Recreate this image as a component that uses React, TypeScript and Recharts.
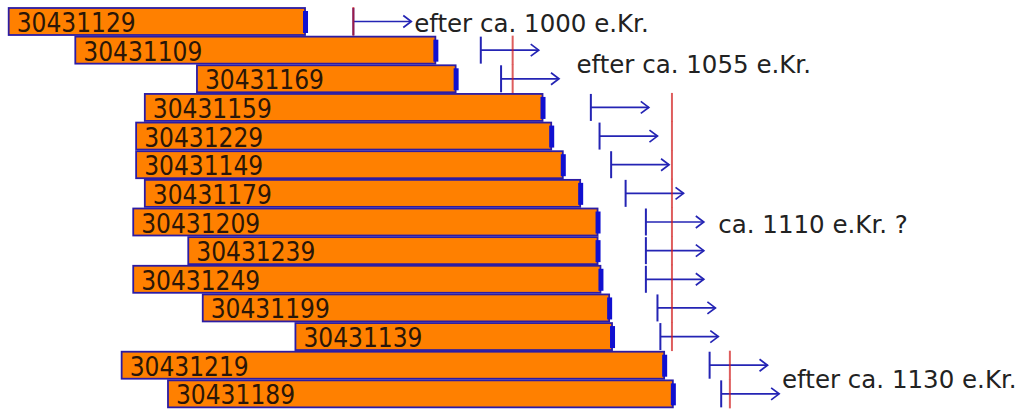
import React from "react";
import { BarChart, Bar, XAxis, YAxis } from "recharts";

// dendro samples, top to bottom
const SAMPLES = [
  "30431129", "30431109", "30431169", "30431159", "30431229", "30431149", "30431179",
  "30431209", "30431239", "30431249", "30431199", "30431139", "30431219", "30431189",
];
const FIRST_RING = [881, 904, 946, 928, 925, 925, 928, 924, 943, 924, 948, 980, 920, 936];
const LAST_RING = [984, 1029, 1036, 1066, 1069, 1073, 1079, 1085, 1085, 1086, 1089, 1090, 1108, 1111];
const EARLIEST_FELLING = [1000, 1044, 1051, 1082, 1085, 1089, 1094, 1101, 1101, 1101, 1105, 1106, 1123, 1127];
const FELLING_DATE = [1000, 1055, 1055, 1110, 1110, 1110, 1110, 1110, 1110, 1110, 1110, 1110, 1130, 1130];
const ARROW_YEARS = 20;

const NOTES = [
  { sample: "30431129", text: "efter ca. 1000 e.Kr.", year: 1021, at: "mid" },
  { sample: "30431109", text: "efter ca. 1055 e.Kr.", year: 1077, at: "below" },
  { sample: "30431209", text: "ca. 1110 e.Kr. ?", year: 1126, at: "mid" },
  { sample: "30431219", text: "efter ca. 1130 e.Kr.", year: 1148, at: "below" },
];

const rows = SAMPLES.map((id, i) => ({
  id,
  first: FIRST_RING[i],
  last: LAST_RING[i],
  tick: EARLIEST_FELLING[i],
  felled: FELLING_DATE[i],
  span: [FIRST_RING[i], EARLIEST_FELLING[i] + ARROW_YEARS],
  note: NOTES.find((n) => n.sample === id),
}));

const BLUE = "#2424b4";

function SampleShape(props: any) {
  const { x, y, width, height, payload } = props;
  const [lo, hi] = payload.span;
  // linear, same as the x scale
  const px = (v: number) => x + (width * (v - lo)) / (hi - lo);
  const end = px(payload.last);
  const tx = px(payload.tick);
  const ax = px(payload.tick + ARROW_YEARS);
  const cy = y + height / 2;
  const rx = px(payload.felled);
  const note = payload.note;

  return (
    <g>
      <rect x={x} y={y} width={end - x - 2} height={height} fill="#ff8000" stroke="#2c1ca4" strokeWidth={1.8} />
      <rect x={end - 4} y={y + 3} width={5} height={height - 5} fill="#1010d0" />
      <text x={x + 8} y={y + height - 3} fontSize={26} fontFamily="DejaVu Sans Condensed, DejaVu Sans" fill="#2a1608">
        {payload.id}
      </text>
      <line x1={tx} x2={tx} y1={y} y2={y + height} stroke={BLUE} strokeWidth={2} />
      <line x1={tx} x2={ax} y1={cy} y2={cy} stroke={BLUE} strokeWidth={1.7} />
      <polyline points={`${ax - 8},${cy - 6} ${ax},${cy} ${ax - 8},${cy + 6}`} fill="none" stroke={BLUE} strokeWidth={1.7} />
      <line x1={rx} x2={rx} y1={y - 1} y2={y + height + 1} stroke="#d01818" strokeOpacity={0.7} strokeWidth={2} />
      {note && (
        <text
          x={px(note.year)}
          y={note.at === "mid" ? cy + 2 : y + height + 1}
          dominantBaseline="central"
          fontSize={24.5}
          fontFamily="DejaVu Sans"
          fill="#222"
        >
          {note.text}
        </text>
      )}
    </g>
  );
}

export default function App() {
  return (
    <div style={{ position: "absolute", left: 0, top: 0, width: 1034, height: 411, background: "#fff" }}>
      <BarChart
        width={1034}
        height={411}
        data={rows}
        layout="vertical"
        margin={{ top: 7, right: 0, bottom: 3, left: 0 }}
        barCategoryGap={1}
      >
        <XAxis type="number" domain={[878, 1235]} hide />
        <YAxis type="category" dataKey="id" hide />
        <Bar dataKey="span" shape={<SampleShape />} isAnimationActive={false} />
      </BarChart>
    </div>
  );
}
